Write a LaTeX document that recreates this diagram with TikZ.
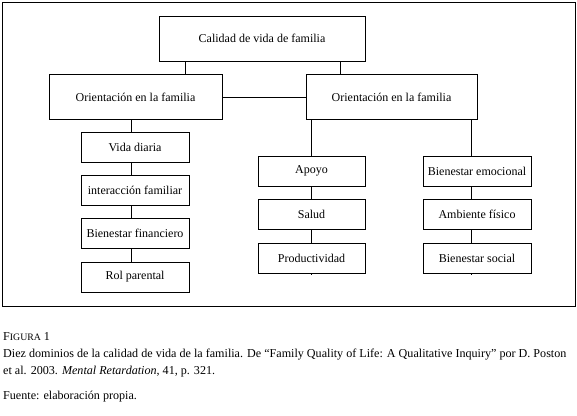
\documentclass[tikz,border=0pt]{standalone}
\usepackage{fontspec}
\setmainfont{Liberation Serif}
\begin{document}
\begin{tikzpicture}[x=1pt,y=-1pt,
  bx/.style={draw=black,line width=0.9pt,fill=white,inner sep=0pt,font=\fontsize{12}{14}\selectfont},
  big/.style={bx,minimum height=45pt},
  sm/.style={bx,minimum width=108pt,minimum height=30pt},
  ln/.style={draw=black,line width=0.9pt},
  captxt/.style={anchor=west,inner sep=0pt,font=\fontsize{12.1}{14}\selectfont}]
\useasboundingbox (0,0) rectangle (577,415);
\draw[line width=0.9pt] (2,2) rectangle (575,306);
% main boxes
\node[big,minimum width=206pt] (top) at (262,38.5) {Calidad de vida de familia};
\node[big,minimum width=173pt] (lm) at (135.5,97) {Orientación en la familia};
\node[big,minimum width=171pt] (rm) at (391.5,97) {Orientación en la familia};
% left column
\node[sm] (vd) at (135,147.5) {Vida diaria};
\node[sm] (if) at (135,190.7) {interacción familiar};
\node[sm] (bf) at (135,233.5) {Bienestar financiero};
\node[sm] (rp) at (135,277) {Rol parental};
% middle column
\node[sm,minimum width=107pt] (ap) at (311.5,171) {Apoyo};
\node[sm,minimum width=107pt] (sa) at (311.5,214) {Salud};
\node[sm,minimum width=107pt] (pr) at (311.5,258) {Productividad};
% right column
\node[sm] (be) at (477,171) {Bienestar emocional};
\node[sm] (af) at (477,214) {Ambiente físico};
\node[sm] (bs) at (477,258) {Bienestar social};
\coordinate (pre) at (311,275);
\coordinate (bse) at (471,275);
% connectors
\draw[ln] (185.6,0 |- top.south) -- (185.6,0 |- lm.north);
\draw[ln] (340.5,0 |- top.south) -- (340.5,0 |- rm.north);
\draw[ln] (lm.east) -- (rm.west);
\draw[ln] (131,0 |- lm.south) -- (131,0 |- vd.north);
\draw[ln] (131,0 |- vd.south) -- (131,0 |- if.north);
\draw[ln] (131,0 |- if.south) -- (131,0 |- bf.north);
\draw[ln] (131,0 |- bf.south) -- (131,0 |- rp.north);
\draw[ln] (311,0 |- rm.south) -- (311,0 |- ap.north);
\draw[ln] (311,0 |- ap.south) -- (311,0 |- sa.north);
\draw[ln] (311,0 |- sa.south) -- (311,0 |- pr.north);
\draw[ln] (311,0 |- pr.south) -- (pre);
\draw[ln] (471,0 |- rm.south) -- (471,0 |- be.north);
\draw[ln] (471,0 |- be.south) -- (471,0 |- af.north);
\draw[ln] (471,0 |- af.south) -- (471,0 |- bs.north);
\draw[ln] (471,0 |- bs.south) -- (bse);
% caption
\node[captxt] (fig) at (3,337) {F{\fontsize{9.8}{12}\selectfont IGURA} 1};
\node[captxt] (c1) at (3,354.5) {Diez dominios de la calidad de vida de la familia. De “Family Quality of Life: A Qualitative Inquiry” por D. Poston};
\node[captxt] (c2) at (3,372) {et al. 2003. \textit{Mental Retardation}, 41, p. 321.};
\node[captxt] (c3) at (3,397) {Fuente: elaboración propia.};
\end{tikzpicture}
\end{document}
